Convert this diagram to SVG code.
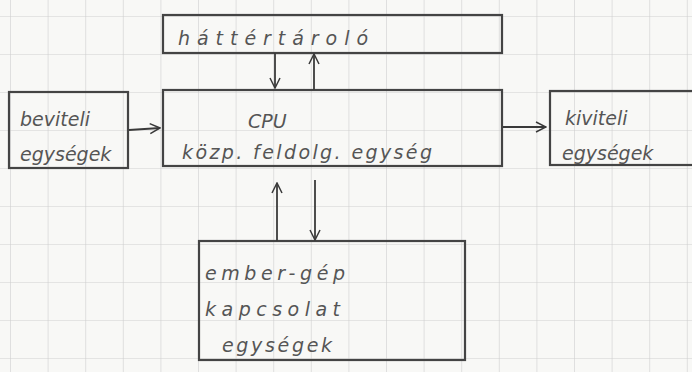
<svg xmlns="http://www.w3.org/2000/svg" width="692" height="372" viewBox="0 0 692 372">
<defs>
<pattern id="grid" x="10" y="16" width="37.6" height="38" patternUnits="userSpaceOnUse">
<path d="M0 0 V38 M0 0 H37.6" fill="none" stroke="#cfcfcf" stroke-width="1.2"/>
</pattern>
<marker id="ah" viewBox="0 0 12 12" refX="11" refY="6" markerWidth="12" markerHeight="12" markerUnits="userSpaceOnUse" orient="auto">
<path d="M1 1 L11 6 L1 11" fill="none" stroke="#3a3a3a" stroke-width="1.5"/>
</marker>
<style>
.box{fill:none;stroke:#444;stroke-width:2.2}
.lbl{font-family:"DejaVu Sans",sans-serif;font-style:italic;fill:#555;font-size:19px}
.con{fill:none;stroke:#3a3a3a;stroke-width:1.8;marker-end:url(#ah)}
</style>
</defs>
<rect width="692" height="372" fill="#f8f8f6"/>
<rect width="692" height="372" fill="url(#grid)"/>
<g id="hattertarolo">
<rect class="box" x="163" y="15" width="339" height="38"/>
<text class="lbl" x="178" y="45" font-size="24" textLength="190" lengthAdjust="spacing">háttértároló</text>
</g>
<g id="cpu">
<rect class="box" x="163" y="90" width="339" height="76"/>
<text class="lbl" x="248" y="128" font-size="22">CPU</text>
<text class="lbl" x="182" y="159" font-size="20" textLength="250" lengthAdjust="spacing">közp. feldolg. egység</text>
</g>
<g id="beviteli">
<rect class="box" x="9" y="92" width="119" height="76"/>
<text class="lbl" x="20" y="126" font-size="19">beviteli</text>
<text class="lbl" x="20" y="161" font-size="19">egységek</text>
</g>
<g id="kiviteli">
<rect class="box" x="550" y="91" width="150" height="74"/>
<text class="lbl" x="565" y="125" font-size="19">kiviteli</text>
<text class="lbl" x="562" y="160" font-size="19">egységek</text>
</g>
<g id="ember-gep">
<rect class="box" x="199" y="241" width="266" height="119"/>
<text class="lbl" x="205" y="280" font-size="22" textLength="140" lengthAdjust="spacing">ember-gép</text>
<text class="lbl" x="205" y="316" font-size="22" textLength="135" lengthAdjust="spacing">kapcsolat</text>
<text class="lbl" x="222" y="352" font-size="22" textLength="110" lengthAdjust="spacing">egységek</text>
</g>
<g id="connectors">
<line class="con" x1="275" y1="53" x2="275" y2="88"/>
<line class="con" x1="314" y1="90" x2="314" y2="54"/>
<line class="con" x1="129" y1="130" x2="160" y2="128"/>
<line class="con" x1="503" y1="127" x2="546" y2="127"/>
<line class="con" x1="277" y1="241" x2="277" y2="183"/>
<line class="con" x1="315" y1="180" x2="315" y2="240"/>
</g>
</svg>
